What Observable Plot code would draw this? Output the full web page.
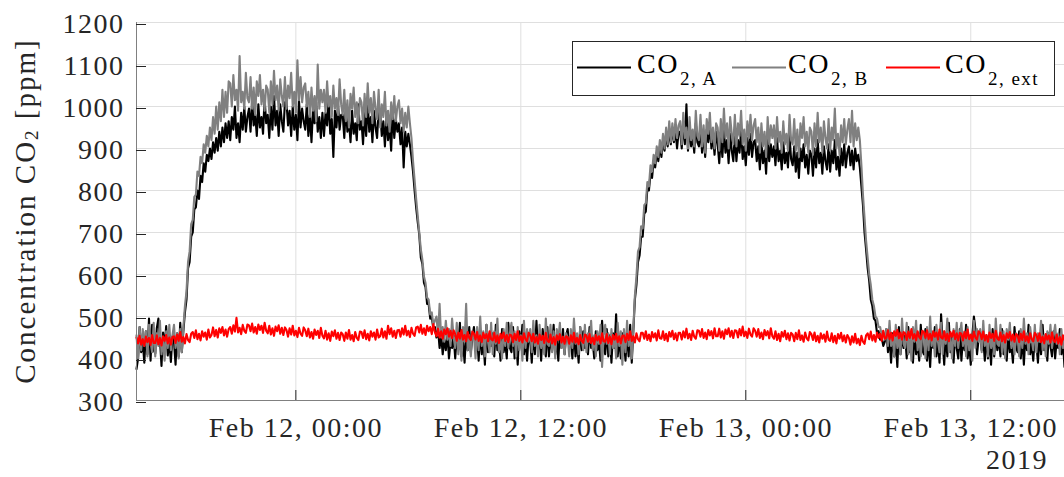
<!DOCTYPE html>
<html>
<head>
<meta charset="utf-8">
<script src="https://cdn.jsdelivr.net/npm/d3@7"></script>
<script src="https://cdn.jsdelivr.net/npm/@observablehq/plot@0.6"></script>
<style>
  html, body { margin: 0; padding: 0; background: #fff; }
  #chart { width: 1064px; height: 477px; }
</style>
</head>
<body>
<div id="chart"></div>
<script>
// ---- sampling: one value every 5 minutes, from Feb 11 2019 15:30 to Feb 13 2019 17:00 (UTC)
const startTime = Date.UTC(2019, 1, 11, 15, 30);
const endTime = Date.UTC(2019, 1, 13, 17, 0);
const stepMinutes = 5;

// ---- series values [ppm], one row per hour (12 samples)
const co2A = [
  375, 400, 475, 415, 440, 390, 465, 410, 495, 395, 480, 420,
  412, 472, 495, 447, 382, 462, 427, 477, 407, 442, 392, 452,
  440, 385, 460, 405, 485, 415, 465, 510, 540, 615, 630, 690,
  700, 755, 760, 800, 780, 835, 820, 865, 845, 885, 870, 900,
  875, 915, 890, 925, 895, 940, 905, 950, 915, 960, 925, 965,
  920, 975, 945, 1000, 925, 960, 915, 985, 945, 1000, 940, 975,
  995, 940, 1015, 955, 980, 930, 1005, 950, 975, 935, 1020, 960,
  980, 925, 1000, 945, 1025, 955, 990, 930, 1005, 965, 940, 1010,
  1010, 955, 990, 930, 1000, 945, 980, 920, 1015, 950, 995, 965,
  945, 1005, 930, 980, 915, 995, 960, 1010, 940, 975, 925, 985,
  930, 985, 955, 1015, 935, 970, 880, 990, 950, 1005, 945, 980,
  980, 925, 1000, 940, 965, 915, 990, 935, 960, 920, 1005, 945,
  965, 910, 985, 930, 1010, 940, 975, 915, 990, 950, 925, 995,
  985, 930, 965, 905, 975, 920, 955, 895, 990, 925, 970, 940,
  960, 910, 950, 855, 940, 905, 935, 910, 880, 845, 800, 760,
  725, 695, 640, 625, 580, 570, 530, 530, 495, 500, 470, 475,
  450, 470, 425, 455, 410, 445, 420, 460, 400, 440, 425, 455,
  400, 455, 425, 485, 405, 440, 390, 460, 420, 475, 415, 450,
  475, 420, 455, 395, 465, 410, 445, 385, 480, 415, 460, 430,
  460, 405, 480, 420, 445, 395, 470, 415, 440, 400, 485, 425,
  415, 475, 400, 450, 385, 465, 430, 480, 410, 445, 395, 455,
  445, 390, 465, 410, 490, 420, 455, 395, 470, 430, 405, 475,
  405, 450, 420, 480, 410, 445, 395, 465, 425, 470, 410, 455,
  470, 425, 450, 400, 470, 405, 440, 390, 475, 420, 465, 425,
  455, 410, 475, 425, 440, 400, 465, 420, 445, 395, 490, 430,
  410, 470, 405, 455, 390, 460, 425, 505, 405, 450, 400, 460,
  440, 395, 460, 405, 480, 390, 465, 540, 575, 630, 645, 690,
  690, 745, 750, 805, 800, 840, 830, 870, 855, 890, 870, 905,
  880, 920, 895, 935, 905, 945, 910, 950, 915, 945, 900, 940,
  940, 900, 965, 910, 1005, 895, 950, 905, 930, 890, 960, 915,
  905, 950, 890, 935, 880, 945, 915, 955, 900, 930, 885, 940,
  910, 865, 930, 880, 945, 890, 920, 865, 935, 895, 870, 935,
  870, 920, 890, 945, 875, 905, 860, 925, 885, 935, 880, 915,
  920, 870, 905, 850, 915, 865, 895, 840, 925, 870, 910, 880,
  905, 860, 925, 870, 895, 850, 915, 865, 890, 855, 930, 875,
  860, 905, 845, 890, 830, 900, 870, 910, 855, 885, 840, 895,
  885, 835, 900, 855, 920, 865, 890, 840, 905, 870, 850, 910,
  845, 895, 865, 920, 850, 880, 835, 900, 860, 910, 855, 890,
  905, 860, 895, 850, 900, 870, 885, 855, 810, 765, 700, 660,
  615, 585, 540, 525, 495, 490, 460, 465, 445, 450, 430, 440,
  470, 415, 450, 390, 460, 405, 440, 380, 475, 410, 455, 425,
  455, 400, 475, 415, 440, 390, 465, 410, 435, 395, 480, 420,
  410, 470, 395, 445, 380, 460, 425, 475, 405, 440, 390, 505,
  440, 385, 460, 405, 485, 415, 450, 390, 465, 425, 400, 470,
  395, 450, 420, 480, 400, 435, 385, 455, 500, 470, 410, 445,
  465, 420, 445, 395, 455, 400, 445, 385, 470, 405, 460, 420,
  450, 405, 470, 410, 445, 395, 460, 415, 430, 390, 475, 425,
  415, 465, 400, 450, 385, 455, 420, 480, 410, 435, 395, 455,
  435, 390, 455, 410, 480, 420, 445, 395, 460, 430, 405, 465,
  400, 445, 425, 470, 410, 440, 380
];

const co2B = [
  455, 400, 475, 420, 470, 430, 465, 405, 480, 440, 415, 485,
  405, 460, 430, 490, 410, 445, 395, 465, 425, 480, 420, 455,
  480, 425, 460, 400, 470, 415, 475, 525, 560, 630, 655, 720,
  730, 785, 790, 845, 835, 880, 865, 910, 890, 930, 905, 950,
  920, 975, 935, 1000, 945, 1010, 965, 1040, 975, 1035, 985, 1060,
  1055, 1000, 1075, 1015, 1040, 990, 1120, 1010, 1035, 995, 1080, 1020,
  1010, 1070, 995, 1045, 980, 1060, 1025, 1075, 1005, 1040, 990, 1050,
  1040, 985, 1060, 1005, 1085, 1015, 1050, 990, 1065, 1025, 1000, 1070,
  995, 1050, 1020, 1080, 1000, 1035, 985, 1110, 1015, 1070, 1010, 1045,
  1055, 1000, 1035, 975, 1045, 990, 1025, 965, 1100, 995, 1040, 1010,
  1040, 985, 1060, 1000, 1025, 975, 1050, 995, 1020, 980, 1065, 1005,
  980, 1040, 965, 1015, 950, 1030, 995, 1045, 975, 1010, 960, 1020,
  1010, 955, 1030, 975, 1055, 985, 1020, 960, 1035, 995, 970, 1040,
  950, 1005, 975, 1035, 955, 990, 940, 1010, 970, 1025, 965, 1000,
  1015, 960, 995, 940, 985, 950, 1000, 960, 925, 870, 825, 780,
  740, 700, 660, 635, 595, 580, 545, 540, 505, 510, 480, 490,
  500, 455, 530, 450, 475, 440, 490, 445, 470, 430, 495, 450,
  425, 485, 410, 460, 395, 475, 440, 530, 420, 455, 405, 465,
  455, 400, 475, 420, 500, 430, 465, 405, 480, 440, 415, 485,
  410, 465, 435, 495, 415, 450, 400, 470, 430, 485, 425, 460,
  485, 430, 465, 405, 475, 420, 455, 395, 490, 425, 470, 440,
  470, 415, 490, 430, 455, 405, 480, 425, 450, 410, 495, 435,
  430, 480, 415, 465, 400, 470, 445, 485, 425, 450, 410, 460,
  450, 405, 470, 425, 495, 435, 460, 410, 475, 445, 420, 480,
  415, 460, 440, 490, 420, 455, 405, 465, 435, 480, 380, 455,
  480, 435, 460, 410, 470, 425, 450, 400, 485, 430, 465, 385,
  470, 415, 490, 430, 455, 400, 470, 550, 595, 655, 665, 715,
  710, 765, 770, 820, 810, 860, 845, 885, 865, 905, 880, 920,
  890, 935, 900, 950, 910, 965, 915, 960, 920, 970, 925, 955,
  965, 910, 985, 925, 950, 900, 975, 920, 945, 905, 990, 930,
  920, 980, 905, 955, 890, 970, 935, 985, 915, 950, 900, 960,
  950, 895, 970, 915, 995, 925, 960, 900, 975, 935, 910, 980,
  905, 960, 930, 990, 910, 945, 895, 965, 925, 980, 920, 955,
  970, 915, 950, 890, 960, 905, 940, 880, 975, 910, 955, 925,
  955, 900, 975, 915, 940, 890, 965, 910, 935, 895, 980, 920,
  910, 970, 895, 945, 880, 960, 925, 975, 905, 940, 890, 950,
  940, 885, 960, 905, 985, 915, 950, 890, 965, 925, 900, 970,
  895, 950, 920, 995, 900, 935, 885, 955, 915, 970, 910, 945,
  970, 915, 990, 905, 960, 920, 950, 920, 860, 790, 735, 680,
  640, 600, 575, 540, 525, 500, 495, 475, 475, 455, 465, 445,
  470, 430, 490, 430, 455, 405, 480, 425, 450, 410, 495, 435,
  425, 485, 410, 460, 395, 475, 440, 490, 420, 455, 405, 465,
  455, 400, 475, 420, 500, 430, 465, 405, 480, 440, 415, 485,
  410, 465, 435, 495, 415, 450, 400, 470, 430, 485, 425, 460,
  485, 430, 465, 405, 475, 420, 455, 395, 490, 425, 470, 440,
  470, 415, 490, 430, 455, 405, 480, 425, 450, 410, 495, 435,
  430, 480, 415, 465, 400, 470, 445, 485, 425, 450, 410, 460,
  450, 405, 470, 425, 495, 435, 460, 410, 475, 445, 420, 480,
  415, 460, 440, 490, 420, 455, 405, 465, 435, 480, 425, 455,
  480, 435, 460, 410, 470, 425, 450
];

const co2Ext = [
  450, 436, 454, 433, 446, 430, 452, 439, 449, 432, 456, 437,
  437, 455, 434, 449, 431, 453, 442, 456, 436, 450, 433, 451,
  453, 437, 457, 442, 463, 440, 451, 436, 458, 444, 439, 459,
  463, 449, 467, 446, 459, 443, 465, 452, 462, 445, 469, 450,
  456, 474, 453, 468, 450, 472, 461, 475, 455, 469, 452, 470,
  475, 459, 479, 464, 497, 462, 473, 458, 480, 466, 461, 481,
  479, 465, 483, 462, 475, 459, 481, 468, 478, 461, 485, 466,
  460, 478, 457, 472, 454, 476, 465, 479, 459, 473, 456, 474,
  468, 452, 472, 457, 478, 455, 466, 451, 473, 459, 454, 474,
  467, 453, 471, 450, 463, 447, 469, 456, 466, 449, 473, 454,
  448, 466, 445, 460, 442, 464, 453, 467, 447, 461, 444, 462,
  458, 442, 462, 447, 468, 445, 456, 441, 463, 449, 444, 464,
  463, 449, 467, 446, 459, 443, 465, 452, 462, 445, 469, 450,
  453, 471, 450, 465, 447, 478, 458, 472, 452, 466, 449, 467,
  468, 452, 472, 457, 478, 455, 466, 451, 473, 459, 454, 474,
  476, 462, 480, 459, 472, 456, 478, 465, 475, 458, 482, 463,
  453, 471, 450, 465, 447, 469, 458, 472, 452, 466, 449, 467,
  458, 442, 462, 447, 468, 445, 456, 441, 463, 449, 444, 464,
  459, 445, 463, 442, 455, 439, 461, 448, 458, 441, 465, 446,
  443, 461, 440, 455, 437, 459, 448, 462, 442, 456, 439, 457,
  455, 439, 459, 444, 465, 442, 453, 438, 460, 446, 441, 461,
  455, 441, 459, 438, 451, 435, 457, 444, 454, 437, 461, 442,
  439, 457, 436, 451, 433, 455, 444, 458, 438, 452, 435, 453,
  451, 435, 455, 440, 461, 438, 449, 434, 456, 442, 437, 457,
  454, 440, 458, 437, 450, 434, 456, 443, 453, 436, 460, 441,
  440, 458, 437, 452, 434, 456, 445, 459, 439, 453, 436, 454,
  455, 439, 459, 444, 465, 442, 453, 438, 460, 446, 441, 461,
  461, 447, 465, 444, 457, 441, 463, 450, 460, 443, 467, 448,
  447, 465, 444, 459, 441, 463, 452, 466, 446, 460, 443, 461,
  461, 445, 465, 450, 471, 448, 459, 444, 466, 452, 447, 467,
  466, 452, 470, 449, 462, 446, 468, 455, 465, 448, 472, 453,
  453, 471, 450, 465, 447, 469, 458, 472, 452, 466, 449, 467,
  466, 450, 470, 455, 476, 453, 464, 449, 471, 457, 452, 472,
  466, 452, 470, 449, 462, 446, 468, 455, 465, 448, 472, 453,
  447, 465, 444, 459, 441, 463, 452, 466, 446, 460, 443, 461,
  457, 441, 461, 446, 467, 444, 455, 440, 462, 448, 443, 463,
  458, 444, 462, 441, 454, 438, 460, 447, 457, 440, 464, 445,
  442, 460, 439, 454, 436, 458, 447, 461, 441, 455, 438, 456,
  449, 433, 453, 438, 459, 436, 447, 432, 454, 440, 435, 455,
  460, 446, 464, 443, 456, 440, 462, 449, 459, 442, 466, 447,
  449, 467, 446, 461, 443, 465, 454, 468, 448, 462, 445, 463,
  460, 444, 464, 449, 470, 447, 458, 443, 465, 451, 446, 466,
  463, 449, 467, 446, 459, 443, 465, 452, 462, 445, 469, 450,
  447, 465, 444, 459, 441, 463, 452, 466, 446, 460, 443, 461,
  459, 443, 463, 448, 469, 446, 457, 442, 464, 450, 445, 465,
  460, 446, 464, 443, 456, 440, 462, 449, 459, 442, 466, 447,
  444, 462, 441, 456, 438, 460, 449, 463, 443, 457, 440, 458,
  455, 439, 459, 444, 465, 442, 453, 438, 460, 446, 441, 461,
  456, 442, 460, 439, 452, 436, 458, 445, 455, 438, 462, 443,
  439, 457, 436, 451, 433, 455, 444
];

// ---- axis ticks
const yTicks = [300, 400, 500, 600, 700, 800, 900, 1000, 1100, 1200];
const xTicks = [
  new Date(Date.UTC(2019, 1, 12, 0, 0)),
  new Date(Date.UTC(2019, 1, 12, 12, 0)),
  new Date(Date.UTC(2019, 1, 13, 0, 0)),
  new Date(Date.UTC(2019, 1, 13, 12, 0))
];
const yearLabel = "2019";
const seriesNames = [
  {key: "A", sub: "2, A", color: "#000000"},
  {key: "B", sub: "2, B", color: "#808080"},
  {key: "ext", sub: "2, ext", color: "#ff0000"}
];

const toRows = (values) => values.map((v, i) => ({
  t: new Date(startTime + i * stepMinutes * 60000),
  v
}));
const rowsA = toRows(co2A);
const rowsB = toRows(co2B);
const rowsExt = toRows(co2Ext);

const FONT = "'Liberation Serif', 'DejaVu Serif', serif";
const INK = "#262626";

const chart = Plot.plot({
  width: 1064,
  height: 477,
  marginLeft: 136,
  marginRight: 0,
  marginTop: 22,
  marginBottom: 77,
  style: {fontFamily: FONT, fontSize: "28px", color: INK, background: "#ffffff", overflow: "visible", letterSpacing: "1.5px"},
  x: {type: "utc", domain: [new Date(startTime), new Date(endTime)]},
  y: {domain: [300, 1200]},
  marks: [
    Plot.gridX(xTicks, {stroke: "#dfdfdf", strokeOpacity: 1, strokeWidth: 1}),
    Plot.gridY(yTicks, {stroke: "#dfdfdf", strokeOpacity: 1, strokeWidth: 1}),
    Plot.line(rowsA, {x: "t", y: "v", stroke: seriesNames[0].color, strokeWidth: 2.1}),
    Plot.line(rowsB, {x: "t", y: "v", stroke: seriesNames[1].color, strokeWidth: 2.1}),
    Plot.line(rowsExt, {x: "t", y: "v", stroke: seriesNames[2].color, strokeWidth: 2.1}),
    Plot.ruleX([new Date(startTime)], {stroke: "#808080", strokeWidth: 1}),
    Plot.ruleY([300], {stroke: "#808080", strokeWidth: 1}),
    Plot.axisY(yTicks, {
      anchor: "left", tickSize: -10, tickPadding: 22, label: null,
      tickFormat: d3.format("d"), stroke: INK, fill: INK, fontSize: 28, dy: 2
    }),
    Plot.axisX(xTicks, {
      anchor: "bottom", tickSize: -10, tickPadding: 27, label: null,
      tickFormat: d3.utcFormat("%b %d, %H:%M"), stroke: INK, fill: INK, fontSize: 28
    })
  ]
});

document.getElementById("chart").appendChild(chart);

// ---- extra texts: y label, year, legend
const svg = d3.select(chart);

const ylab = svg.append("text")
  .attr("transform", "translate(35,211) rotate(-90)")
  .attr("text-anchor", "middle")
  .attr("font-family", FONT)
  .attr("font-size", 29)
  .attr("letter-spacing", "2px")
  .attr("fill", INK);
ylab.append("tspan").text("Concentration CO");
ylab.append("tspan").attr("font-size", 19).attr("dy", 3).text("2");
ylab.append("tspan").attr("dy", -3).text(" [ppm]");

svg.append("text")
  .attr("x", 1048).attr("y", 469)
  .attr("text-anchor", "end")
  .attr("font-family", FONT)
  .attr("font-size", 28)
  .attr("fill", INK)
  .text(yearLabel);

const lg = svg.append("g").attr("text-anchor", "start");
lg.append("rect")
  .attr("x", 572.5).attr("y", 41.5).attr("width", 482).attr("height", 54)
  .attr("fill", "#ffffff").attr("stroke", INK).attr("stroke-width", 1);

const lineX = [577, 732, 886];
const textX = [637, 788, 945];
seriesNames.forEach((s, i) => {
  lg.append("line")
    .attr("x1", lineX[i]).attr("x2", lineX[i] + 54)
    .attr("y1", 67.5).attr("y2", 67.5)
    .attr("stroke", s.color).attr("stroke-width", 1.8);
  const t = lg.append("text")
    .attr("x", textX[i]).attr("y", 73)
    .attr("text-anchor", "start")
    .attr("font-family", FONT).attr("font-size", 28)
    .attr("fill", "#000000");
  t.append("tspan").text("CO");
  t.append("tspan").attr("font-size", 19).attr("dx", 1).attr("dy", 12).text(s.sub);
});
</script>
</body>
</html>
